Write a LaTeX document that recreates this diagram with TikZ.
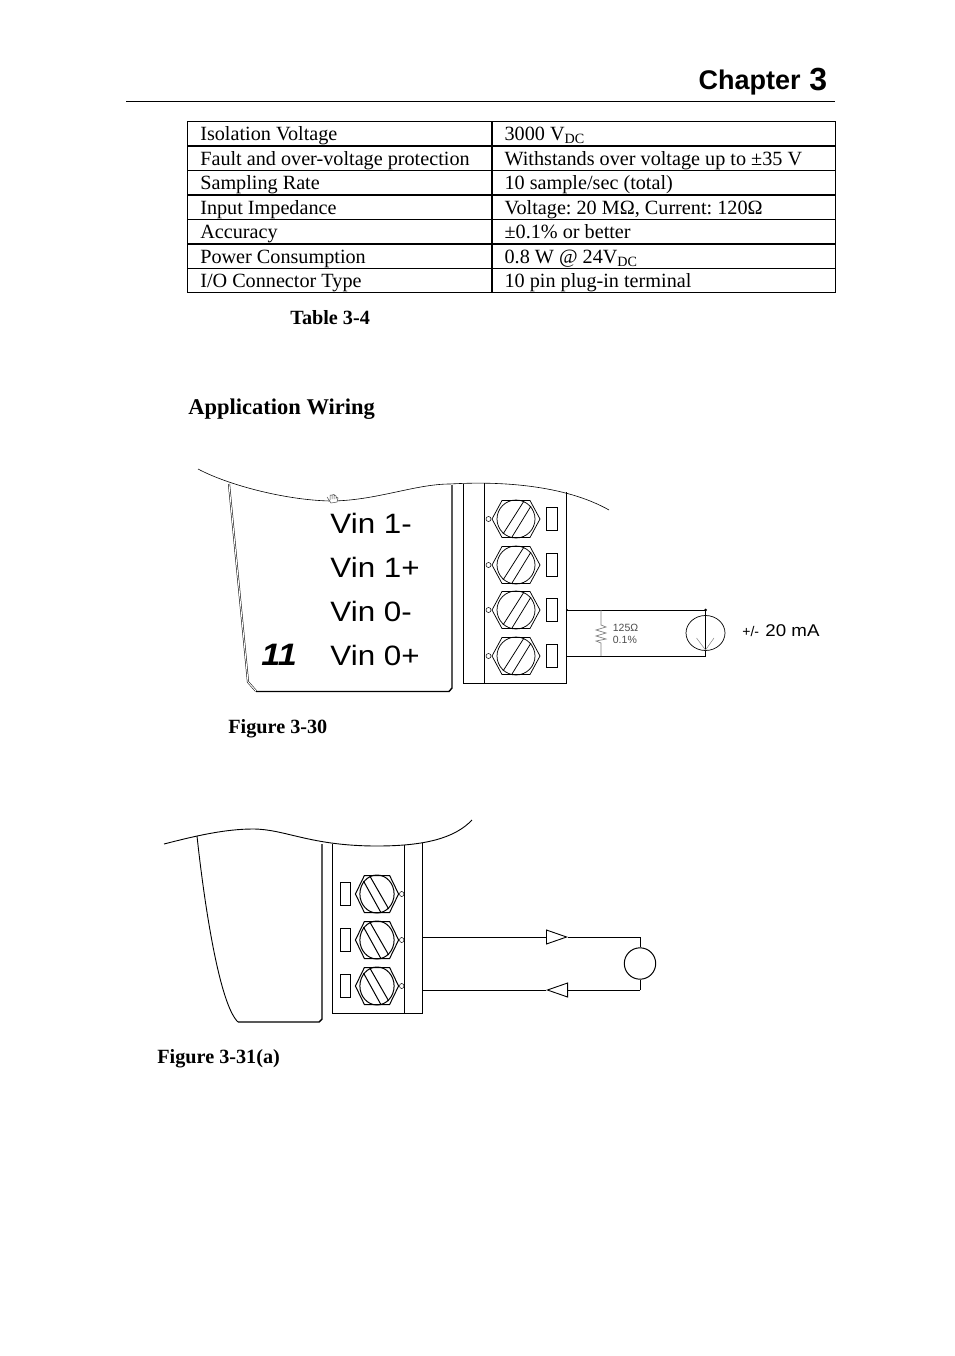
\documentclass[tikz,border=0pt]{standalone}
\usepackage{fontspec}
\setmainfont{Liberation Serif}
\setsansfont{Liberation Sans}
\usetikzlibrary{matrix,arrows.meta,shapes.geometric}
\newcommand{\fsize}[1]{\fontsize{#1}{#1}\selectfont}
\tikzset{
  wire/.style={line width=.9pt},
  thinwire/.style={line width=.6pt},
  heavy/.style={line width=1.4pt},
  caption/.style={anchor=base west,inner sep=0pt,font=\bfseries\fsize{20.2}},
  vinlabel/.style={anchor=base west,inner sep=0pt,xscale=1.12,font=\sffamily\fsize{28}},
  tip/.style={wire,-{Triangle[open,length=22pt,width=15pt]}},
  screw/.pic={
    \draw (-24,0)--(-14,-18.5)--(14,-18.5)--(24,0)--(14,18.5)--(-14,18.5)--cycle;
    \draw (0,0) circle (19);
    \draw (-13,15)--(8,-18) (-4,18)--(15,-13);
    \draw[line width=.5pt] (-27.5,0) circle (2.5);
    \draw (30,-11.5) rectangle (41,11.5);
  }
}
\begin{document}
\begin{tikzpicture}[x=1pt,y=-1pt,line width=.8pt]
\useasboundingbox (0,0) rectangle (954,1356);
% header
\node[anchor=base east,inner sep=0pt,font=\sffamily\bfseries\fsize{27}] (chapter) at (801,90) {Chapter};
\node[anchor=base west,inner sep=0pt,font=\sffamily\bfseries\fsize{32}] (chapnum) at (809,91) {3};
\coordinate (ruleL) at (126,101);
\coordinate (ruleR) at (835,101);
\draw[wire] (ruleL)--(ruleR);
% table
\matrix (spec) [matrix of nodes,anchor=north west,inner sep=0pt,
column sep=0pt,row sep=0pt,
nodes={draw,line width=.8pt,anchor=center,outer sep=0pt,inner xsep=12.5pt,inner ysep=2.35pt,
text height=16.5pt,text depth=2.5pt,font=\fsize{20.2},
execute at begin node={\spaceskip=5.05pt\relax\xspaceskip=5.05pt\relax}},
column 1/.style={nodes={text width=278.5pt}},
column 2/.style={nodes={text width=318.5pt}}] at (187,121)
{
Isolation Voltage & 3000 V\textsubscript{DC} \\
Fault and over-voltage protection & Withstands over voltage up to ±35 V \\
Sampling Rate & 10 sample/sec (total) \\
Input Impedance & Voltage: 20 MΩ, Current: 120Ω \\
Accuracy & ±0.1\% or better \\
Power Consumption & 0.8 W @ 24V\textsubscript{DC} \\
I/O Connector Type & 10 pin plug-in terminal \\};
\node[caption] (tablecap) at (290,324) {Table 3-4};
\node[caption,font=\bfseries\fsize{22.5}] (apptitle) at (188,414) {Application Wiring};
% figure 3-30
\draw[thinwire] (198,469) .. controls (228,485) and (285,500) .. (330,501)
  .. controls (375,501) and (415,484) .. (450,484)
  .. controls (500,481) and (565,485) .. (609,510);
\draw[line width=.5pt,double,double distance=1pt] (229,484) -- (248,682) -- (256,691);
\draw[heavy] (256,691.5) -- (449,691.5) -- (452,688) -- (452,485);
% hand cursor on the edge
\draw[black!70,fill=white,line width=.5pt] (329,500) -- (327,497) (330,500) -- (330,495) -- (332,495) -- (332,499) (332,495) -- (334,494.5) -- (334,499) (334,495) -- (336,496) -- (336,499) (336,497) -- (338,498) -- (337,502) -- (331,503) -- (329,500);
\draw[wire] (463.5,484) -- (463.5,683) -- (566.5,683) -- (566.5,492);
\draw[wire] (484,483) -- (484,683);
\foreach \y/\s in {519/a,565/b,610/c,656/d}
  \pic[line width=.75pt] (s\s) at (516,\y) {screw};
\foreach \y/\t/\n in {533/{Vin 1-}/a,577/{Vin 1+}/b,621/{Vin 0-}/c,665/{Vin 0+}/d}
  \node[vinlabel] (vin\n) at (330,\y) {\t};
\node[anchor=base west,inner sep=0pt,xscale=1.1,font=\sffamily\bfseries\itshape\fsize{31}] (slot) at (261,665) {11};
\coordinate (t1) at (567,610);
\coordinate (t2) at (567,656);
\coordinate (p1) at (705.5,610);
\coordinate (p2) at (705.5,656);
\node[draw,ellipse,line width=.7pt,minimum width=39pt,minimum height=35pt,inner sep=0pt] (cur) at (705.5,633) {};
\draw[wire] (t1)--(p1)--(p2)--(t2);
\fill (p1) circle (1.5);
\fill (t1) circle (1);
\coordinate (ar) at (705.5,650);
\draw[gray,line width=.5pt] (696.5,638)--(ar)--(714,638);
\draw[gray,line width=.7pt] (601,610)--(601,625)--(606,627)--(596,630)--(606,633)--(596,636)--(606,639)--(596,641)--(601,643)--(601,656);
\node[anchor=base west,inner sep=0pt,text=black!70,font=\sffamily\fsize{10.5}] (ohm) at (612.5,631.5) {125Ω};
\node[anchor=base west,inner sep=0pt,text=black!70,font=\sffamily\fsize{10.5}] (pct) at (612.5,643.5) {0.1\%};
\node[anchor=base west,inner sep=0pt,font=\sffamily\fsize{14}] (pm) at (742,636.5) {+/-};
\node[anchor=base west,inner sep=0pt,xscale=1.1,font=\sffamily\fsize{17}] (ma) at (765,636.5) {20 mA};
\node[caption] (figa) at (228,733) {Figure 3-30};
% figure 3-31(a)
\draw[wire] (164,844) .. controls (195,836) and (225,829) .. (253,829)
  .. controls (285,829) and (310,846) .. (377,846)
  .. controls (425,846) and (455,838) .. (472,820);
\draw[wire] (197,836) .. controls (205,910) and (220,1005) .. (238,1022);
\draw[heavy] (238,1022) -- (319,1022) -- (322,1019) -- (322,844);
\draw[wire] (332,844) -- (332,1013) -- (422,1013) -- (422,843);
\draw[wire] (404,845) -- (404,1013);
\foreach \y/\s in {894/e,940/f,986/g}
  \pic[xscale=-.9,line width=1pt] (s\s) at (377,\y) {screw};
\coordinate (w1) at (423,937);
\coordinate (a1) at (568,937);
\coordinate (b1) at (640,937);
\coordinate (w2) at (640,990);
\coordinate (a2) at (546,990);
\coordinate (b2) at (423,990);
\node[draw,circle,line width=1pt,minimum size=31.4pt,inner sep=0pt] (src) at (640,963.5) {};
\draw[tip] (w1)--(a1);
\draw[wire] (a1)--(b1)--(src);
\draw[wire] (src)--(w2);
\draw[tip] (w2)--(a2);
\draw[wire] (a2)--(b2);
\node[caption] (figb) at (157,1063) {Figure 3-31(a)};
\end{tikzpicture}
\end{document}
